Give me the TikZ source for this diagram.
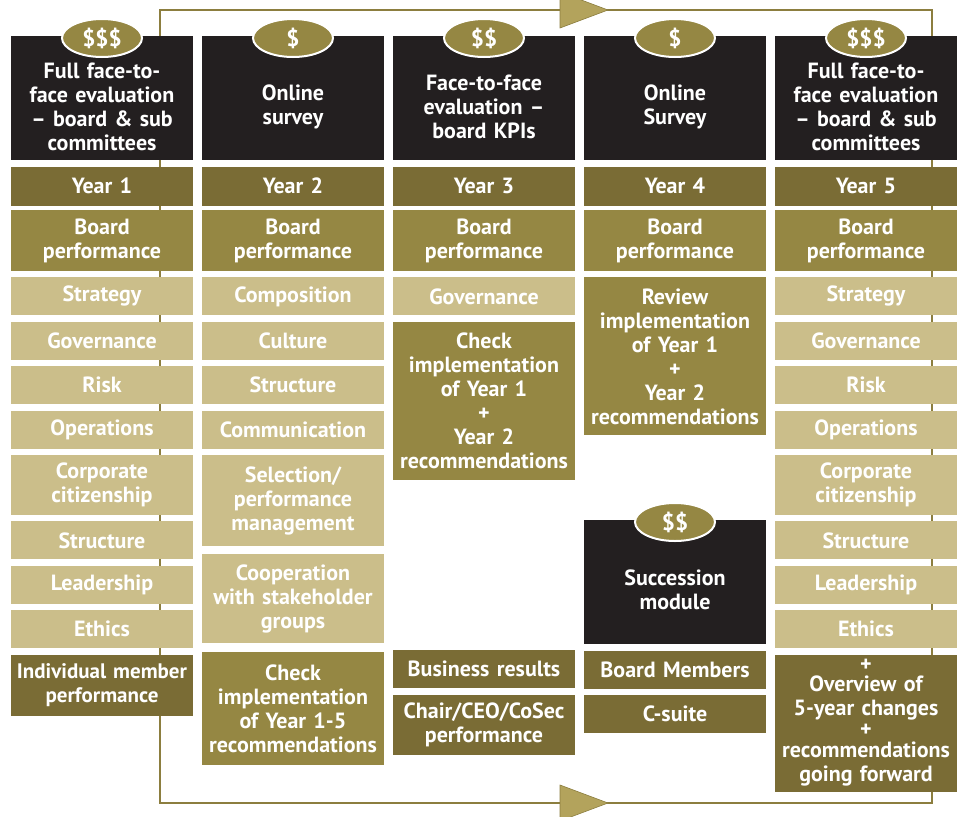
\documentclass[tikz,border=0pt]{standalone}
\usepackage{fontspec}
\setmainfont{PT Sans}
\usetikzlibrary{positioning,shapes.geometric}
\definecolor{Ink}{HTML}{231F20}
\definecolor{DarkOlive}{HTML}{7A6C35}
\definecolor{MidOlive}{HTML}{958743}
\definecolor{Tan}{HTML}{CBBE8A}
\definecolor{Frame}{HTML}{8C7E3F}
\definecolor{Gold}{HTML}{B3A35C}

\begin{document}
\begin{tikzpicture}[
  x=1pt, y=1pt,
  node distance=6pt,
  every node/.style={align=center, text=white, font=\bfseries\fontsize{22}{24}\selectfont},
  cell/.style={minimum width=182pt, text width=180pt, inner sep=0pt},
  hdr/.style={cell, fill=Ink, minimum height=124pt},
  hdrtxt/.style={text width=180pt, inner sep=0pt},
  cost/.style={ellipse, fill=MidOlive, draw=white, line width=2pt, minimum width=80pt, minimum height=38pt, inner sep=0pt, font=\bfseries\fontsize{23}{24}\selectfont},
  yearbox/.style={cell, fill=DarkOlive, minimum height=39pt},
  perfbox/.style={cell, fill=MidOlive, minimum height=61pt},
  topic/.style={cell, fill=Tan, minimum height=38pt},
  cycle line/.style={draw=Frame, line width=2pt},
  tip/.style={fill=Gold, draw=Frame, line width=0.6pt}
]
\clip (0,0) rectangle (962,-817);

% Loop round the five years
\coordinate (loopNW) at (160,-10);
\coordinate (loopSE) at (932,-803);
\path[cycle line] (loopNW) rectangle (loopSE);
\fill[tip] (560,8) -- (608,-10) -- (560,-28) -- cycle;
\fill[tip] (560,-785) -- (608,-803) -- (560,-821) -- cycle;

% Year 1
\node[hdr, anchor=north] (head1) at (102,-36) {};
\node[hdrtxt] (title1) at ([yshift=-9pt]head1.center) {Full face-to-\\face evaluation\\-- board \& sub\\committees};
\node[cost] (cost1) at ([yshift=-2pt]head1.north) {\$\$\$};
\node[yearbox, below=6pt of head1] (year1) {Year 1};
\node[perfbox, below=4pt of year1] (perf1) {Board\\performance};
\node[topic, below=of perf1] (strat1) {Strategy};
\node[topic, below=of strat1] (gov1) {Governance};
\node[topic, below=of gov1] (risk1) {Risk};
\node[topic, below=of risk1] (ops1) {Operations};
\node[topic, below=of ops1, minimum height=60pt] (citz1) {Corporate\\citizenship};
\node[topic, below=of citz1] (struc1) {Structure};
\node[topic, below=of struc1] (lead1) {Leadership};
\node[topic, below=of lead1] (eth1) {Ethics};
\node[yearbox, below=of eth1, minimum height=61pt, font=\bfseries\fontsize{21}{24}\selectfont] (indiv1) {Individual member\\performance};

% Year 2
\node[hdr, anchor=north] (head2) at (293,-36) {};
\node[hdrtxt] (title2) at ([yshift=-9pt]head2.center) {Online\\survey};
\node[cost] (cost2) at ([yshift=-2pt]head2.north) {\$};
\node[yearbox, below=6pt of head2] (year2) {Year 2};
\node[perfbox, below=4pt of year2] (perf2) {Board\\performance};
\node[topic, below=of perf2] (comp2) {Composition};
\node[topic, below=of comp2] (cult2) {Culture};
\node[topic, below=of cult2] (struc2) {Structure};
\node[topic, below=of struc2] (comm2) {Communication};
\node[topic, below=of comm2, minimum height=91pt] (select2) {Selection/\\performance\\management};
\node[topic, below=8pt of select2, minimum height=89pt] (coop2) {Cooperation\\with stakeholder\\groups};
\node[perfbox, below=8pt of coop2, minimum height=113pt] (check2) {Check\\implementation\\of Year 1-5\\recommendations};

% Year 3
\node[hdr, anchor=north] (head3) at (484,-36) {};
\node[hdrtxt] (title3) at ([yshift=-9pt]head3.center) {Face-to-face\\evaluation --\\board KPIs};
\node[cost] (cost3) at ([yshift=-2pt]head3.north) {\$\$};
\node[yearbox, below=6pt of head3] (year3) {Year 3};
\node[perfbox, below=4pt of year3] (perf3) {Board\\performance};
\node[topic, below=of perf3] (gov3) {Governance};
\node[perfbox, below=of gov3, minimum height=158pt] (check3) {Check\\implementation\\of Year 1\\+\\Year 2\\recommendations};
\node[yearbox, anchor=north, minimum height=38pt] (biz3) at (484,-650) {Business results};
\node[yearbox, below=of biz3, minimum height=60pt] (chair3) {Chair/CEO/CoSec\\performance};

% Year 4
\node[hdr, anchor=north] (head4) at (675,-36) {};
\node[hdrtxt] (title4) at ([yshift=-9pt]head4.center) {Online\\Survey};
\node[cost] (cost4) at ([yshift=-2pt]head4.north) {\$};
\node[yearbox, below=6pt of head4] (year4) {Year 4};
\node[perfbox, below=4pt of year4] (perf4) {Board\\performance};
\node[perfbox, below=of perf4, minimum height=158pt] (review4) {Review\\implementation\\of Year 1\\+\\Year 2\\recommendations};
\node[hdr, anchor=north] (succ4) at (675,-520) {};
\node[hdrtxt] (succtxt4) at ([yshift=-8pt]succ4.center) {Succession\\module};
\node[cost] (cost4b) at ([yshift=-2pt]succ4.north) {\$\$};
\node[yearbox, below=of succ4, minimum height=38pt] (members4) {Board Members};
\node[yearbox, below=of members4, minimum height=38pt] (csuite4) {C-suite};

% Year 5
\node[hdr, anchor=north] (head5) at (866,-36) {};
\node[hdrtxt] (title5) at ([yshift=-9pt]head5.center) {Full face-to-\\face evaluation\\-- board \& sub\\committees};
\node[cost] (cost5) at ([yshift=-2pt]head5.north) {\$\$\$};
\node[yearbox, below=6pt of head5] (year5) {Year 5};
\node[perfbox, below=4pt of year5] (perf5) {Board\\performance};
\node[topic, below=of perf5] (strat5) {Strategy};
\node[topic, below=of strat5] (gov5) {Governance};
\node[topic, below=of gov5] (risk5) {Risk};
\node[topic, below=of risk5] (ops5) {Operations};
\node[topic, below=of ops5, minimum height=60pt] (citz5) {Corporate\\citizenship};
\node[topic, below=of citz5] (struc5) {Structure};
\node[topic, below=of struc5] (lead5) {Leadership};
\node[topic, below=of lead5] (eth5) {Ethics};
\node[yearbox, below=of eth5, minimum height=137pt] (wrap5) {+\\[-4pt]Overview of\\5-year changes\\[-3pt]+\\[-3pt]recommendations\\going forward};
\end{tikzpicture}
\end{document}
